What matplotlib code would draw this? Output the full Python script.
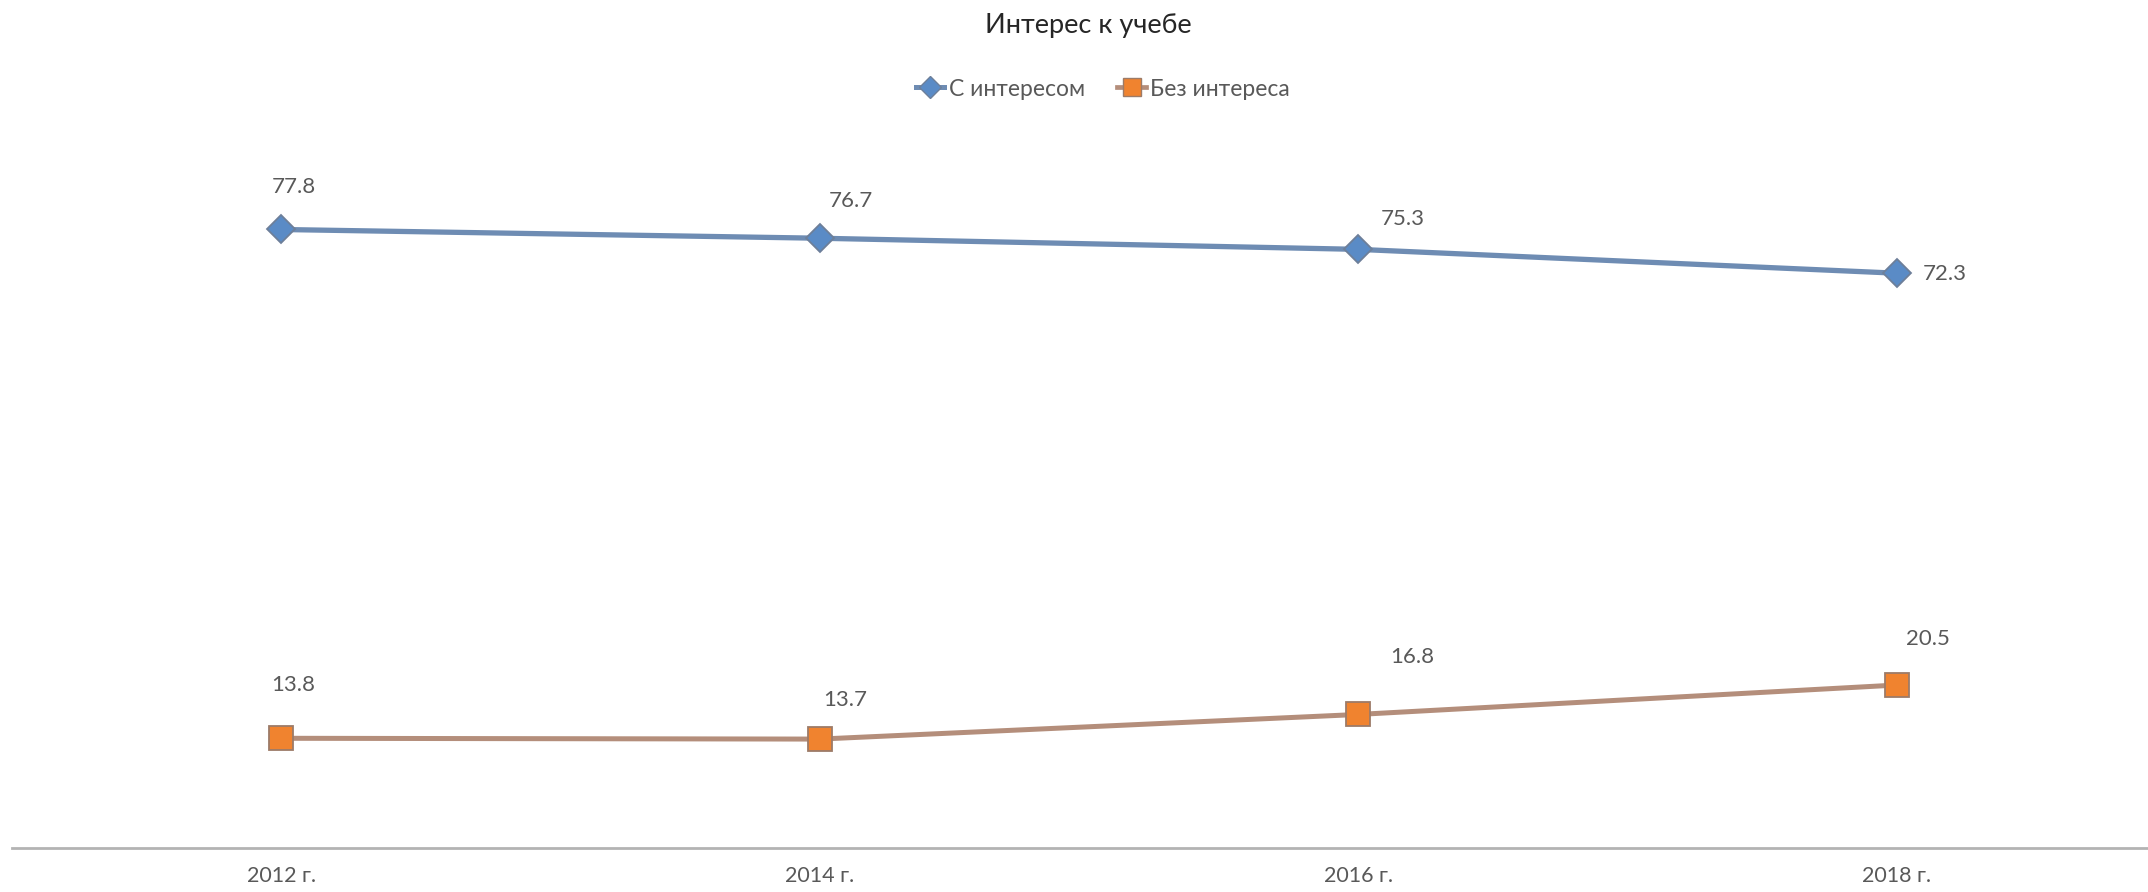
import matplotlib
matplotlib.use("Agg")
import matplotlib.pyplot as plt
from matplotlib.lines import Line2D

# ---- data ----
categories = ["2012 г.", "2014 г.", "2016 г.", "2018 г."]
series_names = ["С интересом", "Без интереса"]
with_interest = [77.8, 76.7, 75.3, 72.3]
without_interest = [13.8, 13.7, 16.8, 20.5]
title_text = "Интерес к учебе"

plt.rcParams['font.family'] = ['Lato', 'DejaVu Sans']

W, H, DPI = 2148, 892, 100
fig = plt.figure(figsize=(W / DPI, H / DPI), dpi=DPI)
fig.patch.set_facecolor('white')

# axes in pixel geometry (plot area extends slightly past the right edge)
left_px, right_px, bottom_px, top_px = 12, 2166, 848, 133
ax = fig.add_axes([left_px / W, (H - bottom_px) / H,
                   (right_px - left_px) / W, (bottom_px - top_px) / H])
ax.set_clip_on(False)

x = list(range(len(categories)))
px2pt = 72 / DPI

blue_line = '#6e8cb3'
blue_fill = '#5a8bc6'
blue_edge = '#6d7f99'
orange_line = '#b48e7b'
orange_fill = '#f0832f'
orange_edge = '#9c7b68'

ax.plot(x, with_interest, color=blue_line, lw=3.8, marker='D',
        markersize=14, markerfacecolor=blue_fill, markeredgecolor=blue_edge,
        markeredgewidth=1.3, zorder=3)
ax.plot(x, without_interest, color=orange_line, lw=3.6, marker='s',
        markersize=17, markerfacecolor=orange_fill, markeredgecolor=orange_edge,
        markeredgewidth=1.3, zorder=3)

# data labels (offsets in pixels, y upwards)
blue_offsets = [(13, 42), (31, 37), (44, 30), (48, -1)]
orange_offsets = [(12, 53), (25, 39), (54, 57), (31, 46)]
label_color = '#595959'
for xi, v, (dx, dy) in zip(x, with_interest, blue_offsets):
    ax.annotate(f"{v:.1f}", (xi, v), xytext=(dx * px2pt, dy * px2pt),
                textcoords='offset points', ha='center', va='center',
                fontsize=16, color=label_color)
for xi, v, (dx, dy) in zip(x, without_interest, orange_offsets):
    ax.annotate(f"{v:.1f}", (xi, v), xytext=(dx * px2pt, dy * px2pt),
                textcoords='offset points', ha='center', va='center',
                fontsize=16, color=label_color)

ax.set_xlim(-0.5, len(categories) - 0.5)
ax.set_ylim(0, (bottom_px - top_px) / 7.95)
ax.set_xticks(x)
ax.set_xticklabels(categories, fontsize=15.5, color=label_color)
ax.tick_params(axis='x', length=0, pad=13)
ax.set_yticks([])
for s in ['top', 'right', 'left']:
    ax.spines[s].set_visible(False)
ax.spines['bottom'].set_color('#b3b3b3')
ax.spines['bottom'].set_linewidth(2.0)

# title
fig.text(1088 / W, 1 - 25 / H, title_text, ha='center', va='center',
         fontsize=19.5, color='#262626')

# legend
handles = [
    Line2D([], [], color=blue_line, lw=3.6, marker='D', markersize=11.5,
           markerfacecolor=blue_fill, markeredgecolor=blue_edge),
    Line2D([], [], color=orange_line, lw=3.4, marker='s', markersize=12.5,
           markerfacecolor=orange_fill, markeredgecolor=orange_edge),
]
leg = fig.legend(handles, series_names, loc='center', ncol=2,
                 bbox_to_anchor=(1103 / W, 1 - 89 / H), frameon=False,
                 fontsize=16.5, handlelength=1.25, handletextpad=0.2,
                 columnspacing=1.4, labelcolor=label_color)

fig.savefig('out.png', dpi=DPI, facecolor='white')
